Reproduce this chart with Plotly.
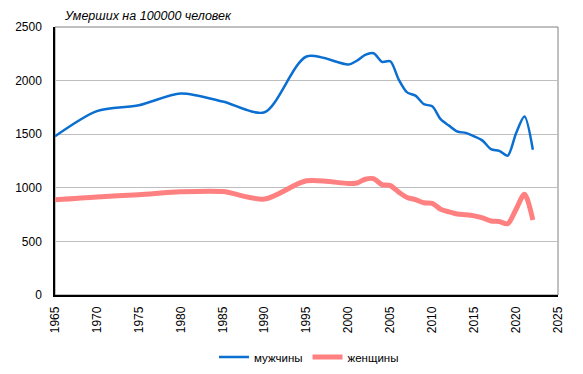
import plotly.graph_objects as go

years = [1965, 1970, 1975, 1980, 1985, 1990, 1995, 2000, 2001, 2002, 2003, 2004,
         2005, 2006, 2007, 2008, 2009, 2010, 2011, 2012, 2013, 2014, 2015, 2016,
         2017, 2018, 2019, 2020, 2021, 2022]
men = [1480, 1715, 1770, 1880, 1805, 1705, 2225, 2150, 2185, 2240, 2255, 2175,
       2180, 2010, 1890, 1860, 1780, 1760, 1640, 1580, 1525, 1512, 1480, 1440,
       1360, 1345, 1300, 1510, 1665, 1355]
women = [888, 915, 935, 962, 965, 895, 1065, 1040, 1045, 1080, 1085, 1030,
         1020, 960, 910, 890, 860, 855, 800, 775, 755, 748, 738, 720,
         690, 685, 665, 800, 940, 700]

x_ticks = list(range(1965, 2026, 5))
y_ticks = [0, 500, 1000, 1500, 2000, 2500]

W, H = 575, 366  # page body has an 8px margin

fig = go.Figure()
fig.add_trace(go.Scatter(x=years, y=men, name="мужчины", mode="lines",
                         line=dict(color="#0A6FD0", width=2.5, shape="spline", smoothing=0.8)))
fig.add_trace(go.Scatter(x=years, y=women, name="женщины", mode="lines",
                         line=dict(color="#FF8080", width=5, shape="spline", smoothing=0.8)))

fig.update_layout(
    width=W, height=H,
    margin=dict(l=47, r=25, t=19, b=79, autoexpand=False),
    paper_bgcolor="white", plot_bgcolor="white",
    font=dict(family="Liberation Sans, Arial, sans-serif", size=12, color="black"),
    showlegend=True,
    legend=dict(orientation="h", xref="container", x=301 / W, xanchor="center",
                yref="container", y=1 - 349 / H, yanchor="middle",
                font=dict(size=11.5), itemwidth=30, tracegroupgap=0,
                bgcolor="rgba(0,0,0,0)"),
    shapes=[dict(type="rect", xref="paper", yref="paper", x0=0, y0=0, x1=1, y1=1,
                 line=dict(color="#808080", width=1), layer="below")],
    annotations=[dict(text="<i>Умерших на 100000 человек</i>", xref="paper", yref="paper",
                      x=0.014, y=1.0, xanchor="left", yanchor="bottom", yshift=2,
                      showarrow=False, font=dict(size=12.5))],
)
fig.update_xaxes(range=[1965, 2025], tickvals=x_ticks, ticktext=[str(v) for v in x_ticks],
                 tickangle=-90, showgrid=False, zeroline=False, automargin=False,
                 showline=True, linecolor="black", linewidth=1.5,
                 ticks="outside", ticklen=5, tickcolor="rgba(0,0,0,0)")
fig.update_yaxes(range=[0, 2500], tickvals=y_ticks, showgrid=True, gridcolor="#BEBEBE",
                 gridwidth=1, zeroline=False, showline=True, linecolor="black",
                 linewidth=1.5, automargin=False,
                 ticks="outside", ticklen=9, tickcolor="rgba(0,0,0,0)")

fig.write_html("out.html")
